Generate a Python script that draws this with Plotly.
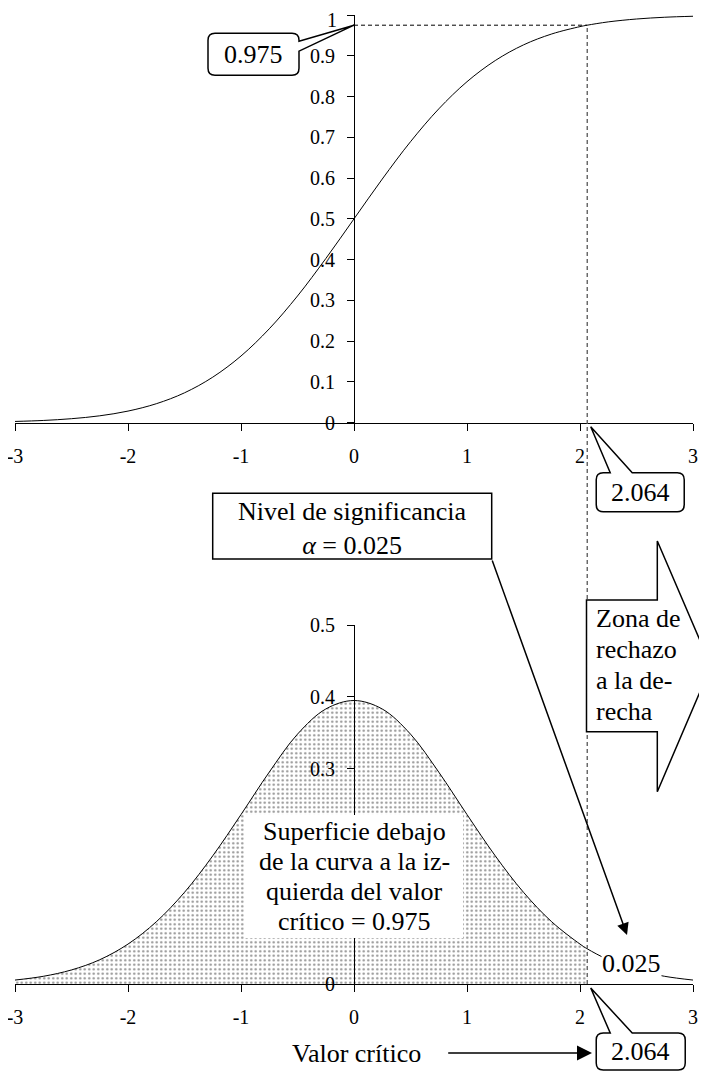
import plotly.graph_objects as go

# ---------------- data ----------------
x_vals = [-3.0, -2.75, -2.5, -2.25, -2.0, -1.75, -1.5, -1.25, -1.0, -0.75, -0.5, -0.25,
          0.0, 0.25, 0.5, 0.75, 1.0, 1.25, 1.5, 1.75, 2.0, 2.064, 2.25, 2.5, 2.75, 3.0]
cdf_vals = [0.0031, 0.0055, 0.0098, 0.0169, 0.0285, 0.0465, 0.0733, 0.1117, 0.1636, 0.2303,
            0.3108, 0.4024, 0.5, 0.5976, 0.6892, 0.7697, 0.8364, 0.8883, 0.9267, 0.9535,
            0.9715, 0.975, 0.9831, 0.9902, 0.9945, 0.9969]
pdf_vals = [0.0055, 0.0107, 0.0196, 0.0338, 0.0556, 0.0866, 0.1277, 0.1785, 0.2360, 0.2951,
            0.3480, 0.3830, 0.3948, 0.3830, 0.3480, 0.2951, 0.2360, 0.1785, 0.1277, 0.0866,
            0.0556, 0.0490, 0.0338, 0.0196, 0.0107, 0.0055]
t_crit = 2.064
p_crit = 0.975
alpha = 0.025
x_ticks = [-3, -2, -1, 0, 1, 2, 3]
x_ticktext = ["-3", "-2", "-1", "0", "1", "2", "3"]
y_ticks = [0, 0.1, 0.2, 0.3, 0.4, 0.5, 0.6, 0.7, 0.8, 0.9, 1]
y_ticktext = ["0", "0.1", "0.2", "0.3", "0.4", "0.5", "0.6", "0.7", "0.8", "0.9", ""]
y_top_label = "1"      # drawn as an annotation so it is not cut at the page top
# bottom panel: 0.1 and 0.2 are hidden behind the text box in the reference
y2_ticks = [0, 0.1, 0.2, 0.3, 0.4, 0.5]
y2_ticktext = ["0", "", "", "0.3", "0.4", "0.5"]

# ---------------- layout geometry (reference pixel coordinates) ----------------
OFF = 8                # page body margin
W, H = 707 - OFF, 1075 - OFF
PLOT_L, PLOT_R = 15, 693
PLOT_T = 15
Y0_BOT = 984           # reference row of the bottom x axis
TOP_Y0 = 422.7         # reference row of the top x axis
BOT_TOP = 625          # reference row of 0.5 on the bottom y axis

ML = PLOT_L - OFF
MR = W - (PLOT_R - OFF)
MT = PLOT_T - OFF
MB = H - (Y0_BOT - OFF)
PW = PLOT_R - PLOT_L
PH = Y0_BOT - PLOT_T


def px(v):
    return (v - PLOT_L) / PW


def py(v):
    return (Y0_BOT - v) / PH


top_dom = [py(TOP_Y0), 1.0]
bot_dom = [0.0, py(BOT_TOP)]

FONT = "Liberation Serif"
TICKF = dict(family=FONT, size=20, color="black")
TXTF = dict(family=FONT, size=26, color="black")

fig = go.Figure()

fig.add_trace(go.Scatter(x=x_vals, y=cdf_vals, mode="lines",
                         line=dict(color="black", width=1, shape="spline"),
                         xaxis="x", yaxis="y", showlegend=False, hoverinfo="skip"))

fx = [x for x in x_vals if x <= t_crit]
fy = [y for x, y in zip(x_vals, pdf_vals) if x <= t_crit]
fig.add_trace(go.Scatter(x=fx, y=fy, mode="lines", fill="tozeroy",
                         fillcolor="rgba(0,0,0,0)",
                         fillpattern=dict(shape=".", fgcolor="#222222", bgcolor="white",
                                          size=4.5, solidity=0.22),
                         line=dict(width=0, shape="spline"),
                         xaxis="x2", yaxis="y2", showlegend=False, hoverinfo="skip"))
fig.add_trace(go.Scatter(x=x_vals, y=pdf_vals, mode="lines",
                         line=dict(color="black", width=1, shape="spline"),
                         xaxis="x2", yaxis="y2", showlegend=False, hoverinfo="skip"))

axis_common = dict(showline=True, linecolor="black", linewidth=1, ticks="outside",
                   ticklen=7, tickwidth=1, tickcolor="black", showgrid=False,
                   zeroline=False, tickfont=TICKF, automargin=False, fixedrange=True,
                   ticklabeloverflow="allow")

fig.update_layout(
    width=W, height=H, margin=dict(l=ML, r=MR, t=MT, b=MB, pad=0),
    paper_bgcolor="white", plot_bgcolor="white",
    xaxis=dict(domain=[0, 1], range=[-3, 3], anchor="y", tickvals=x_ticks,
               ticktext=x_ticktext, ticklabelstandoff=8, **axis_common),
    yaxis=dict(domain=top_dom, range=[0, 1], anchor="free", position=0.5,
               tickvals=y_ticks, ticktext=y_ticktext, ticklabelstandoff=8, **axis_common),
    xaxis2=dict(domain=[0, 1], range=[-3, 3], anchor="y2", tickvals=x_ticks,
                ticktext=x_ticktext, ticklabelstandoff=8, **axis_common),
    yaxis2=dict(domain=bot_dom, range=[0, 0.5], anchor="free", position=0.5,
                tickvals=y2_ticks, ticktext=y2_ticktext, ticklabelstandoff=8,
                **axis_common),
)

shapes = []
# vertical dashed line through both panels
shapes.append(dict(type="line", xref="x", yref="paper", x0=t_crit, x1=t_crit,
                   y0=0, y1=top_dom[0] + p_crit * (top_dom[1] - top_dom[0]),
                   line=dict(color="#555555", width=1.3, dash="4px,3px")))
# horizontal dashed line at 0.975
shapes.append(dict(type="line", xref="x", yref="y", x0=0, x1=t_crit, y0=p_crit, y1=p_crit,
                   line=dict(color="black", width=1, dash="4px,3px")))

# white box behind "Superficie..." text
shapes.append(dict(type="rect", xref="paper", yref="paper",
                   x0=px(245), x1=px(463), y0=py(938), y1=py(815),
                   fillcolor="white", line=dict(width=0)))

# block arrow "Zona de rechazo"
pts = [(586.5, 600), (657.3, 600), (657.3, 541), (711, 666), (657.3, 791.7),
       (657.3, 731.7), (586.5, 731.7)]
path = "M " + " L ".join(f"{px(a):.5f},{py(b):.5f}" for a, b in pts) + " Z"
shapes.append(dict(type="path", xref="paper", yref="paper", path=path,
                   fillcolor="white", line=dict(color="black", width=1.5)))

# "Nivel de significancia" box
shapes.append(dict(type="rect", xref="paper", yref="paper",
                   x0=px(212.7), x1=px(491.7), y0=py(559), y1=py(493.3),
                   fillcolor="white", line=dict(color="black", width=1.5)))


def bubble_right(L, R, T, B, r, b1, b2, tip):
    # rounded box with a wedge on the right edge (pixel coords, y up)
    return (f"M {L+r},{T} L {R-r},{T} Q {R},{T} {R},{T-r} L {R},{b1} L {tip[0]},{tip[1]} "
            f"L {R},{b2} L {R},{B+r} Q {R},{B} {R-r},{B} L {L+r},{B} Q {L},{B} {L},{B+r} "
            f"L {L},{T-r} Q {L},{T} {L+r},{T} Z")


def bubble_top(L, R, T, B, r, a1, a2, tip):
    # rounded box with a wedge on the top edge (pixel coords, y up)
    return (f"M {L+r},{T} L {a1},{T} L {tip[0]},{tip[1]} L {a2},{T} L {R-r},{T} "
            f"Q {R},{T} {R},{T-r} L {R},{B+r} Q {R},{B} {R-r},{B} L {L+r},{B} "
            f"Q {L},{B} {L},{B+r} L {L},{T-r} Q {L},{T} {L+r},{T} Z")


# callout 0.975
shapes.append(dict(type="path", xref="x", yref="y", xsizemode="pixel", ysizemode="pixel",
                   xanchor=0, yanchor=p_crit,
                   path=bubble_right(-146, -55, -8, -50, 7, -16, -26, (0, 0)),
                   fillcolor="white", line=dict(color="black", width=1.5)))
# callout 2.064 (top panel) - y anchored on the top x axis (paper) to avoid clipping
shapes.append(dict(type="path", xref="x", yref="paper", xsizemode="pixel", ysizemode="pixel",
                   xanchor=t_crit, yanchor=top_dom[0],
                   path=bubble_top(9, 97, -50, -89, 7, 23, 45, (3.5, -4)),
                   fillcolor="white", line=dict(color="black", width=1.5)))
# callout 2.064 (bottom panel)
shapes.append(dict(type="path", xref="x2", yref="paper", xsizemode="pixel", ysizemode="pixel",
                   xanchor=t_crit, yanchor=bot_dom[0],
                   path=bubble_top(9, 98, -49, -86, 7, 23, 45, (3.5, -4)),
                   fillcolor="white", line=dict(color="black", width=1.5)))

fig.update_layout(shapes=shapes)

C = dict(xanchor="center", yanchor="middle", showarrow=False, font=TXTF)
ann = []
# "1" label of the top y axis, kept inside the page
ann.append(dict(xref="paper", yref="paper", x=px(338), y=py(PLOT_T - MT),
                xanchor="right", yanchor="top", text=y_top_label, showarrow=False,
                font=TICKF, borderpad=0))
ann.append(dict(xref="x", yref="y", x=0, y=p_crit, xshift=-100.5, yshift=-29,
                text=f"{p_crit}", **C))
ann.append(dict(xref="x", yref="paper", x=t_crit, y=top_dom[0], xshift=53, yshift=-69.5,
                text=f"{t_crit}", **C))
ann.append(dict(xref="x2", yref="paper", x=t_crit, y=bot_dom[0], xshift=53.5, yshift=-67.5,
                text=f"{t_crit}", **C))
# Nivel de significancia
ann.append(dict(xref="paper", yref="paper", x=px(352), y=py(528),
                text=f"Nivel de significancia<br><i>α</i> = {alpha}", align="center", **C))
# arrow from box to the tail area
ann.append(dict(xref="paper", yref="paper", x=px(627), y=py(935), text="",
                showarrow=True, axref="pixel", ayref="pixel", ax=491.7 - 627, ay=559 - 935,
                arrowhead=2, arrowsize=1.6, arrowwidth=1.5, arrowcolor="black"))
# 0.025 label
ann.append(dict(xref="paper", yref="paper", x=px(631), y=py(963), text=f"{alpha}",
                bgcolor="white", borderpad=0, **C))
# Zona de rechazo text lines
for i, line in enumerate(["Zona de", "rechazo", "a la de-", "recha"]):
    ann.append(dict(xref="paper", yref="paper", x=px(594), y=py(618 + i * 31.3),
                    xanchor="left", yanchor="middle", text=line, showarrow=False,
                    font=TXTF))
# Superficie text lines
for i, line in enumerate(["Superficie debajo", "de la curva a la iz-",
                          "quierda del valor", f"crítico = {p_crit}"]):
    ann.append(dict(xref="paper", yref="paper", x=px(354), y=py(831 + i * 30.3),
                    text=line, **C))
# Valor crítico + arrow
ann.append(dict(xref="paper", yref="paper", x=px(356), y=py(1053), text="Valor crítico",
                **C))
ann.append(dict(xref="paper", yref="paper", x=px(592), y=py(1053), text="",
                showarrow=True, axref="pixel", ayref="pixel", ax=446.7 - 592, ay=0,
                arrowhead=2, arrowsize=2, arrowwidth=1.5, arrowcolor="black"))

fig.update_layout(annotations=ann)

fig.write_html("out.html")
